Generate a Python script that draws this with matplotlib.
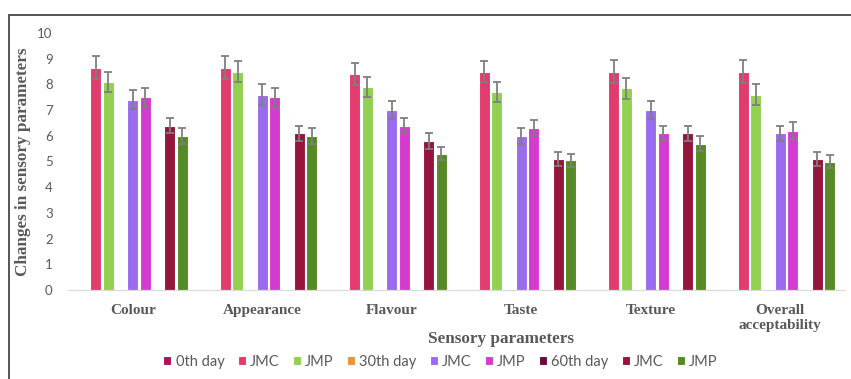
import numpy as np
import matplotlib.pyplot as plt
import matplotlib.patches as patches

# sensory scores, one list per storage day / sample
categories = ['Colour', 'Appearance', 'Flavour', 'Taste', 'Texture', 'Overall\nacceptability']
legend_labels = ['0th day', 'JMC', 'JMP', '30th day', 'JMC', 'JMP', '60th day', 'JMC', 'JMP']

day0 = [0, 0, 0, 0, 0, 0]
jmc0 = [8.65, 8.65, 8.4, 8.5, 8.5, 8.5]
jmp0 = [8.1, 8.5, 7.9, 7.7, 7.85, 7.6]
day30 = [0, 0, 0, 0, 0, 0]
jmc30 = [7.4, 7.6, 7.0, 6.0, 7.0, 6.1]
jmp30 = [7.5, 7.5, 6.4, 6.3, 6.1, 6.2]
day60 = [0, 0, 0, 0, 0, 0]
jmc60 = [6.4, 6.1, 5.8, 5.1, 6.1, 5.1]
jmp60 = [6.0, 6.0, 5.3, 5.05, 5.7, 5.0]

jmc0_err = [0.45, 0.45, 0.43, 0.42, 0.43, 0.43]
jmp0_err = [0.4, 0.4, 0.4, 0.4, 0.4, 0.4]
jmc30_err = [0.37, 0.4, 0.35, 0.3, 0.35, 0.3]
jmp30_err = [0.37, 0.37, 0.3, 0.3, 0.3, 0.32]
jmc60_err = [0.3, 0.3, 0.3, 0.27, 0.3, 0.27]
jmp60_err = [0.3, 0.3, 0.25, 0.25, 0.28, 0.25]

series = [day0, jmc0, jmp0, day30, jmc30, jmp30, day60, jmc60, jmp60]
errors = [None, jmc0_err, jmp0_err, None, jmc30_err, jmp30_err, None, jmc60_err, jmp60_err]
colors = ['#A8125F', '#E23B6E', '#92D050', '#EE9336', '#9B6BEF', '#D63BD0',
          '#6E0A3A', '#96153D', '#568A24']

fig = plt.figure(figsize=(8.51, 3.79), dpi=100)
ax = fig.add_axes([68/851, 89/379, 777/851, 257/379])

x = np.arange(len(categories))
slot = 1/(len(series) + 1.5)
for k, (vals, err, col) in enumerate(zip(series, errors, colors)):
    pos = x + (k - 4)*slot
    ax.bar(pos, vals, width=slot*0.9, color=col, edgecolor='white', linewidth=0.8,
           label=legend_labels[k])
    if err is not None:
        ax.errorbar(pos, vals, yerr=err, fmt='none', ecolor='#7F7F7F',
                    elinewidth=1.3, capsize=3, capthick=1.3)

ax.set_xlim(-0.5, len(categories) - 0.5)
ax.set_ylim(0, 10)
ax.set_yticks(range(0, 11))
ax.set_xticks(x)
ax.set_xticklabels(categories, family='Liberation Serif', fontweight='bold',
                   fontsize=11, color='#595959', linespacing=1.2)
ax.tick_params(axis='y', length=0, labelsize=9.5, labelcolor='#595959', pad=11)
ax.tick_params(axis='x', length=0, pad=10)
for t in ax.get_yticklabels():
    t.set_family('Lato')
for s in ['top', 'right', 'left']:
    ax.spines[s].set_visible(False)
ax.spines['bottom'].set_color('#D9D9D9')

fig.text(23.5/851, 1 - 162/379, 'Changes in sensory parameters', rotation=90,
         ha='center', va='center', family='Liberation Serif', fontweight='bold',
         fontsize=12.3, color='#595959')
fig.text(501/851, 1 - 339/379, 'Sensory parameters', ha='center', va='center',
         family='Liberation Serif', fontweight='bold', fontsize=12.3, color='#595959')

leg = fig.legend(loc='center', bbox_to_anchor=(440.5/851, 1 - 362/379), ncol=9,
                 frameon=False, handlelength=0.55, handleheight=0.55,
                 handletextpad=0.3, columnspacing=0.9,
                 prop={'family': 'Lato', 'size': 10.5})
for t in leg.get_texts():
    t.set_color('#595959')

# outer frame (right/bottom cut off in the original)
fig.add_artist(patches.Rectangle((8.5/851, -0.05), 1.2, (379 - 15)/379 + 0.05,
                                 transform=fig.transFigure, fill=False,
                                 edgecolor='#555555', linewidth=1.4))

fig.savefig('out.png', dpi=100)
